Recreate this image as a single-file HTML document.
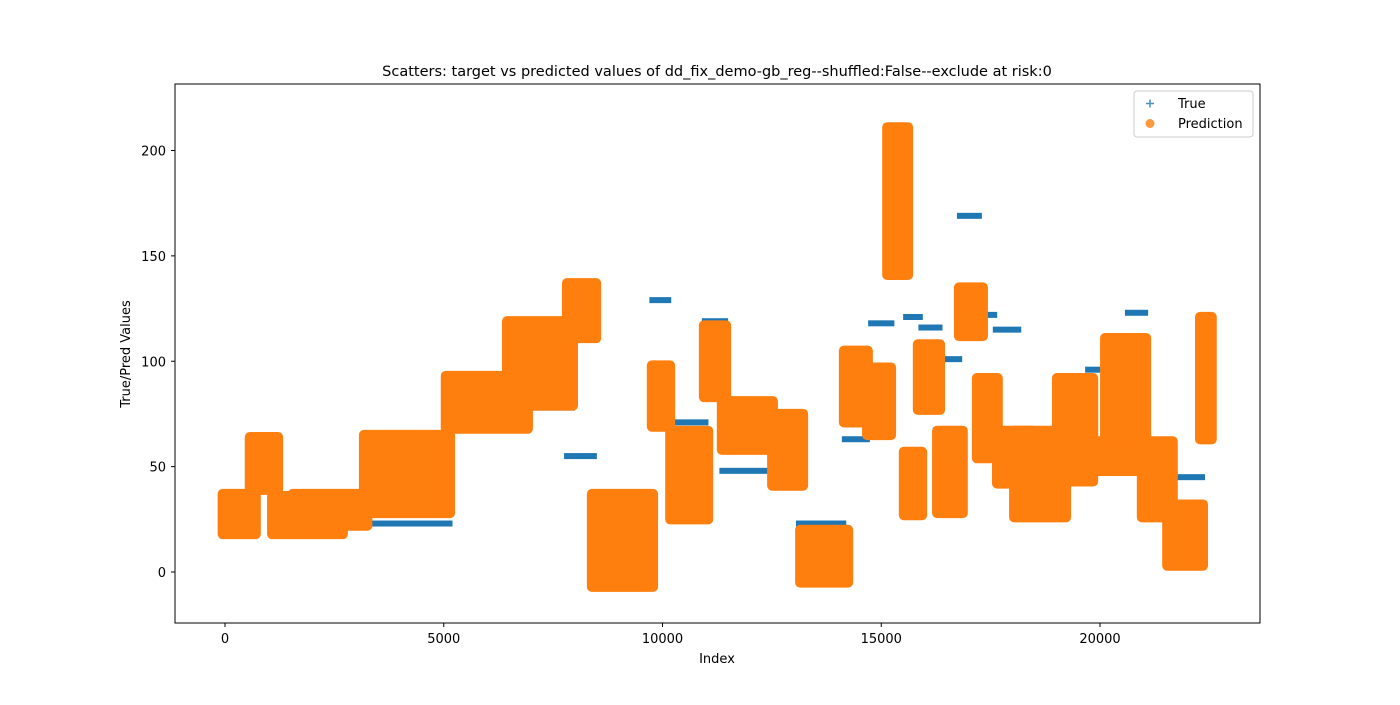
<!DOCTYPE html>
<html><head><meta charset="utf-8"><style>
body{margin:0;background:#fff;font-family:"Liberation Sans","DejaVu Sans",sans-serif;}
svg text{font-family:"DejaVu Sans","Liberation Sans",sans-serif;}
</style></head><body>
<svg id="chart" width="1400" height="700" xmlns="http://www.w3.org/2000/svg">
<rect width="1400" height="700" fill="#fff"/>
<text x="717" y="76" font-size="14.5" text-anchor="middle">Scatters: target vs predicted values of dd_fix_demo-gb_reg--shuffled:False--exclude at risk:0</text>
<g id="trueG"></g>
<g id="predG"></g>
<rect x="175" y="84" width="1085" height="539" fill="none" stroke="#000" stroke-width="1"/>
<g id="axes"></g>
<text x="717" y="663" font-size="13" text-anchor="middle">Index</text>
<text x="130" y="354" font-size="13" text-anchor="middle" transform="rotate(-90 130 354)">True/Pred Values</text>
<g>
<rect x="1134" y="91" width="119" height="46" rx="3" fill="#fff" fill-opacity="0.8" stroke="#ccc"/>
<g><path d="M1146 103.5h8M1150 99.5v8" stroke="#1f77b4" stroke-width="1.5" opacity="0.8"/><text x="1178" y="108" font-size="13">True</text></g>
<g><circle cx="1150" cy="123.5" r="4.5" fill="#ff7f0e" opacity="0.8"/><text x="1178" y="128" font-size="13">Prediction</text></g>
</g>
</svg>
<script>
// Prediction clusters: index start, index end, value low, value high
const predStart=[-100,520,1030,1500,3130,5000,6400,7770,8340,9710,10130,10900,11310,12460,13100,14100,14630,15090,15470,15790,16230,16730,17140,17600,17990,18970,19660,20070,20910,21490,22240];
const predEnd=[750,1260,2740,3300,5190,6970,8000,8530,9830,10220,11090,11500,12570,13260,14290,14740,15270,15660,15980,16390,16910,17370,17710,18510,19270,19890,20910,21100,21710,22400,22600];
const predLow=[17,38,17,21,27,67,78,110,-8,68,24,82,57,40,-6,70,64,140,26,76,27,111,53,41,25,42,47,63,25,2,62];
const predHigh=[38,65,37,38,66,94,120,138,38,99,68,118,82,76,21,106,98,212,58,109,68,136,93,68,68,93,63,112,63,33,122];
// True-value segments
const trueStart=[3200,6400,7750,9700,10200,10900,11300,13050,14100,14700,15500,15850,16300,16730,17300,17550,18050,18970,19660,20570,20910,21400,22240];
const trueEnd=[5200,8000,8500,10200,11050,11500,12500,14200,14740,15300,15950,16400,16850,17300,17650,18200,18960,19660,20570,21100,21710,22400,22600];
const trueVal=[23,78,55,129,71,119,48,23,63,118,121,116,101,169,122,115,63,87,96,123,32,45,114];
const xTicks=[0,5000,10000,15000,20000];
const yTicks=[0,50,100,150,200];
const NS='http://www.w3.org/2000/svg';
const xs=v=>225+v*0.04375;
const ys=v=>572-v*2.1075;
function mk(t,a,p){const e=document.createElementNS(NS,t);for(const k in a)e.setAttribute(k,a[k]);p.appendChild(e);return e;}
const tg=document.getElementById('trueG');
trueVal.forEach((v,i)=>{
 const r=mk('rect',{x:xs(trueStart[i]),y:ys(v)-3,width:xs(trueEnd[i])-xs(trueStart[i]),height:6,fill:'#1f77b4'},tg);
 
 
});
const pg=document.getElementById('predG');
predLow.forEach((v,i)=>{
 const x1=xs(predStart[i]),x2=xs(predEnd[i]),y1=ys(predHigh[i]),y2=ys(v);
 const r=mk('rect',{x:x1-3,y:y1-3,width:x2-x1+6,height:y2-y1+6,rx:5,fill:'#ff7f0e'},pg);
 
 
});
const ax=document.getElementById('axes');
xTicks.forEach(t=>{
 const x=xs(t);
 mk('line',{x1:x,x2:x,y1:623,y2:627,stroke:'#000'},ax);
 const l=mk('text',{x:x,y:643,'font-size':13,'text-anchor':'middle'},ax);l.textContent=t;
 
 
});
yTicks.forEach(t=>{
 const y=ys(t);
 mk('line',{x1:171,x2:175,y1:y,y2:y,stroke:'#000'},ax);
 const l=mk('text',{x:166,y:y+5,'font-size':13,'text-anchor':'end'},ax);l.textContent=t;
 
 
});
</script>
</body></html>
